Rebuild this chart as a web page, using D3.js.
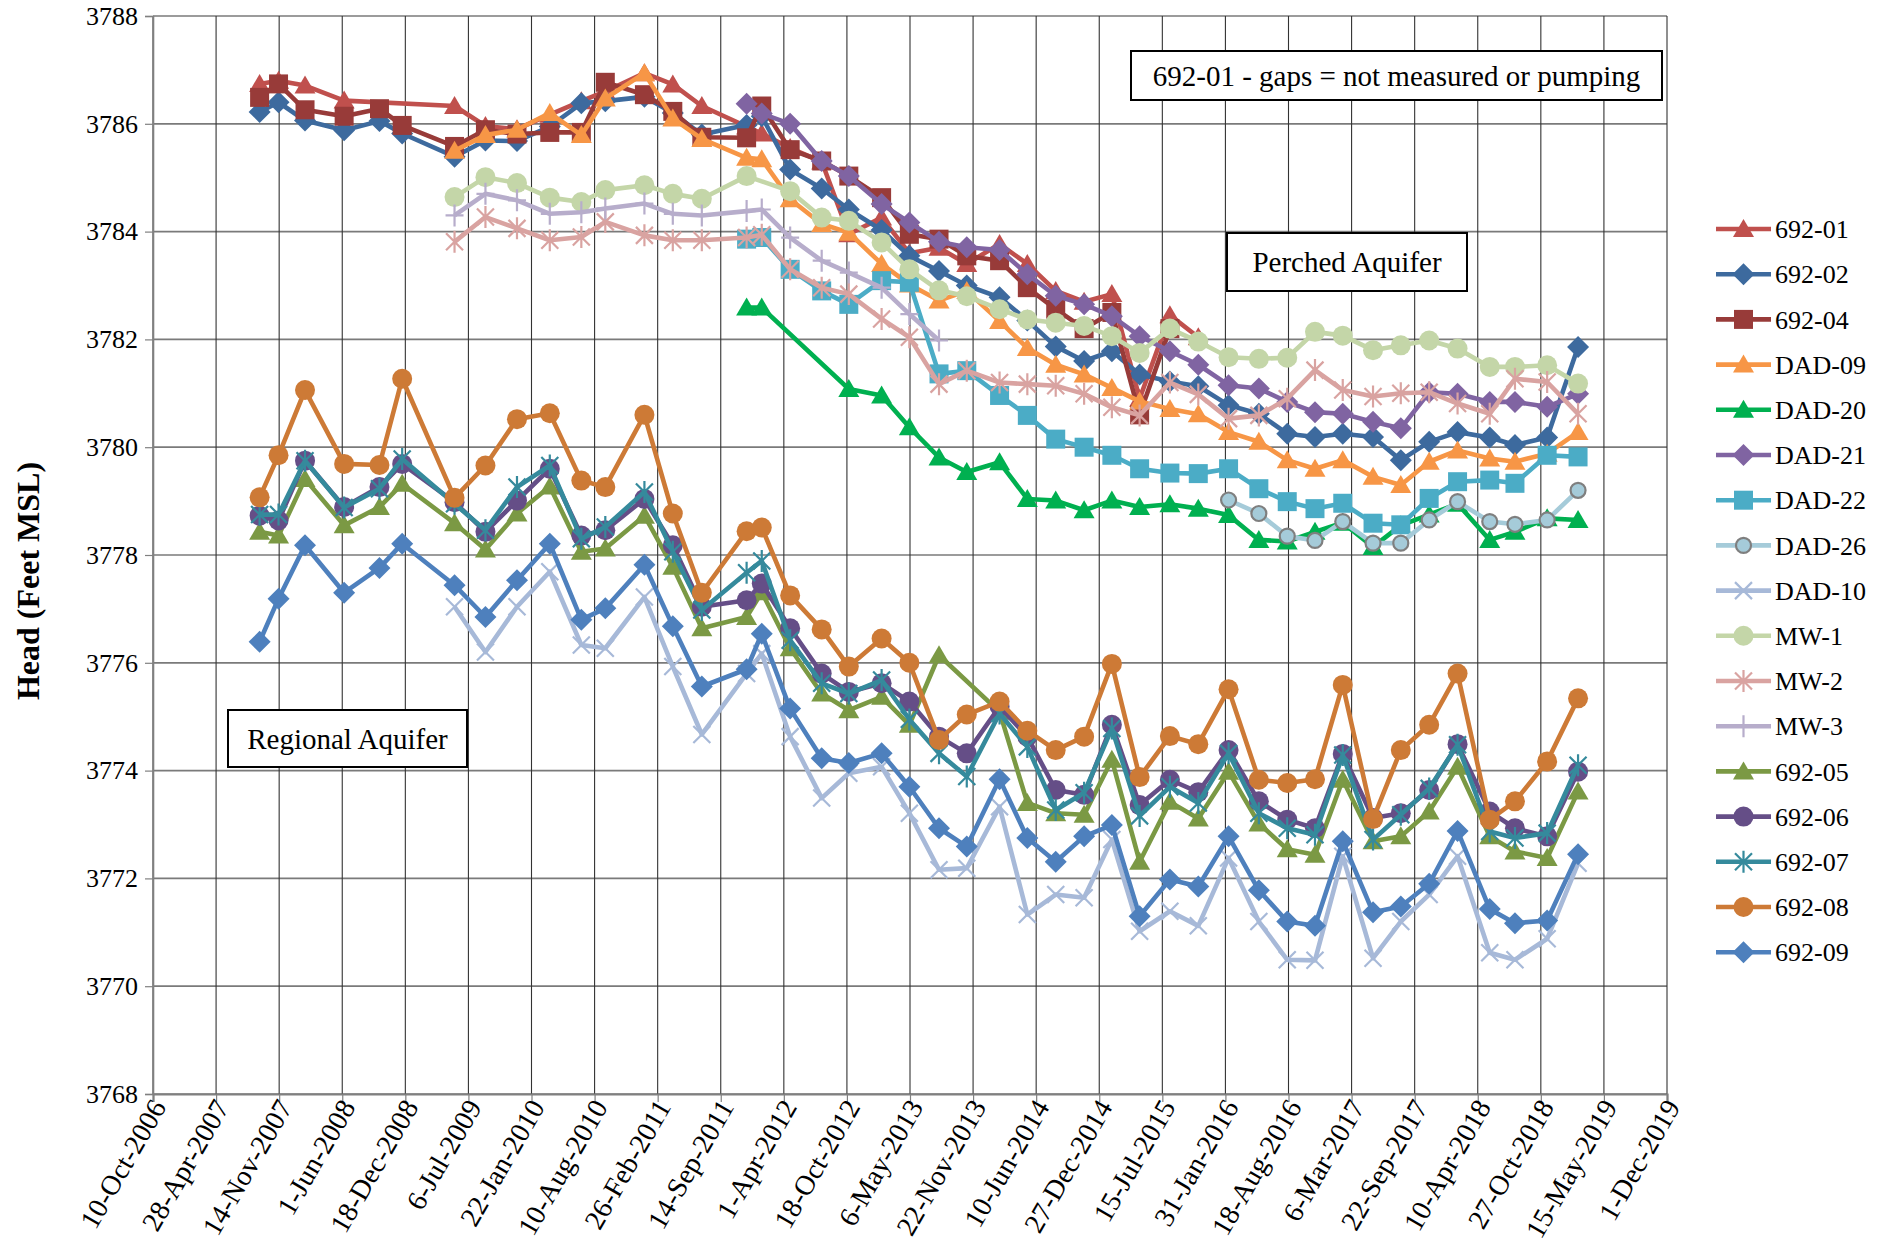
<!DOCTYPE html>
<html>
<head>
<meta charset="utf-8">
<script src="https://cdn.jsdelivr.net/npm/d3@7"></script>
<style>
  body { margin: 0; background: #fff; }
  svg text { font-family: "Liberation Serif", "Times New Roman", serif; fill: #000; }
</style>
</head>
<body>
<svg id="chart" width="1889" height="1247"></svg>
<script>
var _ = null;

// sampling dates shared by all wells
var sampleDates = [
  "2007-09-13","2007-11-12","2008-02-04","2008-06-07","2008-09-27","2008-12-08",
  "2009-05-23","2009-08-29","2009-12-07","2010-03-21","2010-06-29","2010-09-13",
  "2011-01-15","2011-04-15","2011-07-16","2011-12-05","2012-01-22","2012-04-21",
  "2012-07-30","2012-10-24","2013-02-05","2013-05-04","2013-08-06","2013-11-02",
  "2014-02-14","2014-05-13","2014-08-11","2014-11-09","2015-02-05","2015-05-04",
  "2015-08-08","2015-11-06","2016-02-10","2016-05-16","2016-08-14","2016-11-10",
  "2017-02-06","2017-05-13","2017-08-09","2017-11-07","2018-02-05","2018-05-18",
  "2018-08-06","2018-11-16","2019-02-22"
];

var xTickLabels = ["10-Oct-2006","28-Apr-2007","14-Nov-2007","1-Jun-2008","18-Dec-2008","6-Jul-2009",
  "22-Jan-2010","10-Aug-2010","26-Feb-2011","14-Sep-2011","1-Apr-2012","18-Oct-2012","6-May-2013",
  "22-Nov-2013","10-Jun-2014","27-Dec-2014","15-Jul-2015","31-Jan-2016","18-Aug-2016","6-Mar-2017",
  "22-Sep-2017","10-Apr-2018","27-Oct-2018","15-May-2019","1-Dec-2019"];
var yTickLabels = [3768, 3770, 3772, 3774, 3776, 3778, 3780, 3782, 3784, 3786, 3788];

// perched aquifer wells (feet MSL)
var w692_01 = [3786.74,3786.80,3786.71,3786.43,_,_,3786.33,3785.96,3785.90,3786.17,3786.42,3786.60,3786.94,3786.73,3786.33,
  3785.95,3785.82,3785.55,3785.30,3783.95,3784.26,3783.60,3783.70,3783.40,3783.77,3783.40,3782.90,3782.70,3782.84,3780.90,3782.45,3782.04];
var w692_02 = [3786.22,3786.40,3786.06,3785.88,3786.05,3785.82,3785.39,3785.69,3785.68,3785.95,3786.38,3786.42,3786.50,3786.20,3785.80,
  3785.98,3786.14,3785.15,3784.80,3784.41,3784.03,3783.55,3783.27,3783.00,3782.78,3782.35,3781.87,3781.60,3781.78,3781.35,
  3781.22,3781.13,3780.78,3780.62,3780.25,3780.19,3780.25,3780.19,3779.76,3780.10,3780.28,3780.18,3780.04,3780.18,3781.86];
var w692_04 = [3786.49,3786.74,3786.26,3786.14,3786.28,3785.97,3785.58,3785.89,3785.81,3785.84,3785.84,3786.77,3786.54,3786.23,3785.75,
  3785.74,3786.33,3785.52,3785.31,3785.03,3784.63,3783.95,3783.86,3783.55,3783.46,3782.96,3782.56,3782.20,3782.50,3780.60,3782.20];
var dad09 = [_,_,_,_,_,_,3785.50,3785.79,3785.89,3786.20,3785.79,3786.47,3786.94,3786.10,3785.72,
  3785.37,3785.34,3784.60,3784.14,3783.98,3783.40,3783.02,3782.72,3782.90,3782.34,3781.84,3781.53,3781.35,3781.10,3780.85,
  3780.71,3780.61,3780.28,3780.10,3779.76,3779.60,3779.76,3779.45,3779.30,3779.73,3779.94,3779.79,3779.73,3779.88,3780.28];
var dad20 = [_,_,_,_,_,_,_,_,_,_,_,_,_,_,_,
  3782.59,3782.59,_,_,3781.08,3780.96,3780.37,3779.81,3779.54,3779.72,3779.04,3779.01,3778.83,3779.01,3778.89,
  3778.94,3778.86,3778.74,3778.28,3778.25,3778.43,3778.60,3778.15,3778.55,3778.75,3778.95,3778.28,3778.43,3778.68,3778.65];
var dad21 = [_,_,_,_,_,_,_,_,_,_,_,_,_,_,_,
  3786.37,3786.19,3786.00,3785.31,3785.03,3784.51,3784.17,3783.81,3783.71,3783.66,3783.21,3782.81,3782.65,3782.43,3782.06,
  3781.78,3781.53,3781.15,3781.09,3780.84,3780.65,3780.62,3780.47,3780.35,3781.02,3780.99,3780.84,3780.84,3780.75,3780.99];
var dad22 = [_,_,_,_,_,_,_,_,_,_,_,_,_,_,_,
  3783.86,3783.89,3783.30,3782.90,3782.65,3783.09,3783.06,3781.36,3781.42,3780.96,3780.59,3780.15,3780.00,3779.85,3779.60,
  3779.52,3779.51,3779.60,3779.23,3778.99,3778.86,3778.96,3778.59,3778.56,3779.05,3779.36,3779.39,3779.33,3779.85,3779.82];
var dad26 = [_,_,_,_,_,_,_,_,_,_,_,_,_,_,_,_,_,_,_,_,_,_,_,_,_,_,_,_,_,_,_,_,
  3779.02,3778.77,3778.35,3778.27,3778.62,3778.22,3778.22,3778.65,3778.99,3778.62,3778.57,3778.65,3779.20];
var dad10 = [_,_,_,_,_,_,3777.04,3776.20,3777.04,3777.69,3776.33,3776.27,3777.22,3775.93,3774.67,
  3775.80,3776.17,3774.63,3773.49,3773.95,3774.07,3773.21,3772.16,3772.19,3773.33,3771.33,3771.70,3771.64,3772.72,3771.02,
  3771.39,3771.12,3772.38,3771.20,3770.49,3770.48,3772.41,3770.52,3771.20,3771.70,3772.41,3770.62,3770.49,3770.88,3772.28];
var mw1 = [_,_,_,_,_,_,3784.64,3785.01,3784.90,3784.63,3784.55,3784.77,3784.86,3784.70,3784.61,
  3785.03,_,3784.75,3784.26,3784.20,3783.80,3783.30,3782.91,3782.80,3782.56,3782.37,3782.31,3782.25,3782.06,3781.75,
  3782.20,3781.96,3781.67,3781.64,3781.66,3782.14,3782.07,3781.80,3781.89,3781.98,3781.83,3781.49,3781.49,3781.52,3781.18];
var mw2 = [_,_,_,_,_,_,3783.81,3784.27,3784.06,3783.84,3783.90,3784.18,3783.93,3783.84,3783.84,
  3783.89,3783.94,3783.30,3782.96,3782.84,3782.38,3782.04,3781.17,3781.42,3781.20,3781.17,3781.14,3780.99,3780.74,3780.59,
  3781.20,3780.98,3780.53,3780.59,3780.90,3781.43,3781.06,3780.94,3781.00,3781.02,3780.81,3780.62,3781.27,3781.21,3780.62];
var mw3 = [_,_,_,_,_,_,3784.30,3784.70,3784.58,3784.33,3784.36,3784.43,3784.52,3784.33,3784.30,
  3784.38,3784.41,3783.89,3783.46,3783.24,3782.96,3782.47,3781.98];

// regional aquifer wells
var w692_05 = [3778.43,3778.36,3779.41,3778.55,3778.89,3779.32,3778.59,3778.10,3778.77,3779.27,3778.06,3778.12,3778.73,3777.78,3776.64,
  3776.85,3777.31,3776.27,3775.43,3775.12,3775.37,3774.85,3776.14,_,3775.09,3773.40,3773.21,3773.18,3774.20,3772.31,
  3773.42,3773.11,3773.98,3773.02,3772.54,3772.44,3773.83,3772.69,3772.78,3773.24,3774.07,3772.78,3772.50,3772.38,3773.61];
var w692_06 = [3778.73,3778.64,3779.75,3778.89,3779.26,3779.69,3778.98,3778.43,3779.01,3779.60,3778.36,3778.46,3779.04,3778.18,3777.04,
  3777.16,3777.47,3776.64,3775.80,3775.46,3775.62,3775.28,3774.63,3774.32,3775.19,3774.63,3773.64,3773.55,3774.85,3773.36,
  3773.83,3773.60,3774.38,3773.43,3773.09,3772.93,3774.31,3773.12,3773.21,3773.64,3774.49,3773.24,3772.93,3772.78,3773.98];
var w692_07 = [3778.75,3778.75,3779.75,3778.88,3779.23,3779.78,3778.95,3778.46,3779.26,3779.66,3778.30,3778.52,3779.17,3778.06,3776.98,
  3777.67,3777.89,3776.42,3775.62,3775.43,3775.68,3774.95,3774.32,3773.89,3775.06,3774.44,3773.27,3773.59,3774.78,3773.16,
  3773.70,3773.40,3774.32,3773.21,3772.93,3772.81,3774.29,3772.72,3773.18,3773.67,3774.48,3772.87,3772.75,3772.84,3774.10];
var w692_08 = [3779.07,3779.85,3781.06,3779.69,3779.67,3781.27,3779.06,3779.66,3780.52,3780.63,3779.38,3779.26,3780.60,3778.77,3777.30,
  3778.44,3778.51,3777.25,3776.62,3775.93,3776.45,3776.00,3774.57,3775.04,3775.28,3774.74,3774.38,3774.63,3775.98,3773.88,
  3774.64,3774.49,3775.51,3773.83,3773.77,3773.84,3775.59,3773.10,3774.38,3774.85,3775.80,3773.09,3773.43,3774.17,3775.34];
var w692_09 = [3776.39,3777.19,3778.18,3777.30,3777.76,3778.21,3777.44,3776.85,3777.53,3778.21,3776.80,3777.01,3777.82,3776.68,3775.56,
  3775.88,3776.54,3775.15,3774.23,3774.14,3774.32,3773.70,3772.93,3772.59,3773.84,3772.75,3772.31,3772.78,3772.99,3771.30,
  3771.98,3771.85,3772.78,3771.78,3771.20,3771.12,3772.69,3771.37,3771.48,3771.90,3772.88,3771.43,3771.17,3771.22,3772.45];

// series look (legend order = drawing order)
var series = [
  {name: "692-01", values: w692_01, color: "#c0504d", marker: "triangle"},
  {name: "692-02", values: w692_02, color: "#3d6a9e", marker: "diamond"},
  {name: "692-04", values: w692_04, color: "#983b39", marker: "square"},
  {name: "DAD-09", values: dad09,   color: "#f79646", marker: "triangle"},
  {name: "DAD-20", values: dad20,   color: "#00b050", marker: "triangle"},
  {name: "DAD-21", values: dad21,   color: "#8064a2", marker: "diamond"},
  {name: "DAD-22", values: dad22,   color: "#4bacc6", marker: "square"},
  {name: "DAD-26", values: dad26,   color: "#a5cbd9", marker: "ring"},
  {name: "DAD-10", values: dad10,   color: "#a7b9d8", marker: "x"},
  {name: "MW-1",   values: mw1,     color: "#c4d6a8", marker: "circle"},
  {name: "MW-2",   values: mw2,     color: "#d9a3a1", marker: "star"},
  {name: "MW-3",   values: mw3,     color: "#b7adcb", marker: "plus"},
  {name: "692-05", values: w692_05, color: "#7b9944", marker: "triangle"},
  {name: "692-06", values: w692_06, color: "#654e87", marker: "circle"},
  {name: "692-07", values: w692_07, color: "#358a9c", marker: "star"},
  {name: "692-08", values: w692_08, color: "#cd7a36", marker: "circle"},
  {name: "692-09", values: w692_09, color: "#4e80bd", marker: "diamond"}
];

var plotLeft = 153, plotRight = 1667, plotTop = 16, plotBottom = 1094;
var parseDate = d3.utcParse("%Y-%m-%d");
var parseTick = d3.utcParse("%d-%b-%Y");
var tickDates = xTickLabels.map(parseTick);

var x = d3.scaleUtc()
  .domain([tickDates[0], tickDates[tickDates.length - 1]])
  .range([plotLeft, plotRight]);
var y = d3.scaleLinear().domain([3768, 3788]).range([plotBottom, plotTop]);

var svg = d3.select("#chart");
svg.append("rect").attr("width", 1889).attr("height", 1247).attr("fill", "#fff");

// gridlines
svg.append("g").selectAll("line").data(yTickLabels).enter().append("line")
  .attr("x1", plotLeft).attr("x2", plotRight)
  .attr("y1", function(d) { return y(d); }).attr("y2", function(d) { return y(d); })
  .style("stroke", "#7a7a7a").style("stroke-width", 1.7);
svg.append("g").selectAll("line").data(tickDates).enter().append("line")
  .attr("x1", function(d) { return x(d); }).attr("x2", function(d) { return x(d); })
  .attr("y1", plotTop).attr("y2", plotBottom)
  .style("stroke", "#333").style("stroke-width", 1.1);

// axes
var xAxis = svg.append("g")
  .attr("transform", "translate(0," + plotBottom + ")")
  .call(d3.axisBottom(x).tickValues(tickDates).tickSize(8).tickFormat(function(d, i) { return xTickLabels[i]; }));
xAxis.select(".domain").style("stroke", "#808080").style("stroke-width", 2.2);
xAxis.selectAll(".tick line").style("stroke", "#808080").style("stroke-width", 1.2);
xAxis.selectAll(".tick text")
  .style("font-size", "28px")
  .attr("text-anchor", "end")
  .attr("x", 0).attr("y", 0).attr("dy", "0.35em")
  .attr("transform", "translate(5,8) rotate(-60)");

var yAxis = svg.append("g")
  .attr("transform", "translate(" + plotLeft + ",0)")
  .call(d3.axisLeft(y).tickValues(yTickLabels).tickSize(8).tickPadding(7).tickFormat(d3.format("d")));
yAxis.select(".domain").style("stroke", "#808080").style("stroke-width", 1.6);
yAxis.selectAll(".tick line").style("stroke", "#808080").style("stroke-width", 1.2);
yAxis.selectAll(".tick text").style("font-size", "26px");

svg.append("text")
  .attr("transform", "translate(28,581) rotate(-90)")
  .attr("text-anchor", "middle")
  .attr("dy", "0.35em")
  .style("font-size", "32px").style("font-weight", "bold")
  .text("Head (Feet MSL)");

// markers
function markerPath(type) {
  if (type === "triangle") return "M0,-10L10.5,8L-10.5,8Z";
  if (type === "diamond") return "M0,-11L11,0L0,11L-11,0Z";
  if (type === "square") return "M-9.5,-9.5H9.5V9.5H-9.5Z";
  if (type === "x") return "M-8.5,-8.5L8.5,8.5M-8.5,8.5L8.5,-8.5";
  if (type === "star") return "M-8.5,-8.5L8.5,8.5M-8.5,8.5L8.5,-8.5M0,-11V11";
  if (type === "plus") return "M0,-11V11M-9,0H9";
  return null;
}

function drawMarker(g, type, color, cx, cy) {
  if (type === "circle") {
    g.append("circle").attr("cx", cx).attr("cy", cy).attr("r", 10).style("fill", color);
  } else if (type === "ring") {
    g.append("circle").attr("cx", cx).attr("cy", cy).attr("r", 7.5)
      .style("fill", color).style("stroke", "#7f7f7f").style("stroke-width", 2.2);
  } else if (type === "x" || type === "star" || type === "plus") {
    g.append("path").attr("transform", "translate(" + cx + "," + cy + ")")
      .attr("d", markerPath(type)).style("fill", "none")
      .style("stroke", color).style("stroke-width", 2.2);
  } else {
    g.append("path").attr("transform", "translate(" + cx + "," + cy + ")")
      .attr("d", markerPath(type)).style("fill", color);
  }
}

var line = d3.line()
  .x(function(d) { return x(d.date); })
  .y(function(d) { return y(d.value); });

var plot = svg.append("g");
series.forEach(function(s) {
  var pts = [];
  s.values.forEach(function(v, i) {
    if (v !== null) pts.push({date: parseDate(sampleDates[i]), value: v});
  });
  var g = plot.append("g").classed("series", true);
  g.append("path").datum(pts)
    .attr("d", line)
    .style("fill", "none")
    .style("stroke", s.color)
    .style("stroke-width", 4.6)
    .style("stroke-linejoin", "round");
  pts.forEach(function(p) {
    drawMarker(g, s.marker, s.color, x(p.date), y(p.value));
  });
});

// annotation boxes
function noteBox(bx, by, bw, bh, label) {
  var g = svg.append("g");
  g.append("rect").attr("x", bx).attr("y", by).attr("width", bw).attr("height", bh)
    .style("fill", "#fff").style("stroke", "#000").style("stroke-width", 2);
  g.append("text").attr("x", bx + bw / 2).attr("y", by + bh / 2).attr("dy", "0.35em")
    .attr("text-anchor", "middle").style("font-size", "29px").text(label);
}
noteBox(1131, 51, 531, 49, "692-01 - gaps = not measured or pumping");
noteBox(1227, 233, 240, 58, "Perched Aquifer");
noteBox(228, 710, 239, 57, "Regional Aquifer");

// legend
var legend = svg.append("g");
series.forEach(function(s, i) {
  var ly = 229 + i * 45.2;
  var g = legend.append("g");
  g.append("line").attr("x1", 1716).attr("x2", 1771).attr("y1", ly).attr("y2", ly)
    .style("stroke", s.color).style("stroke-width", 4.6);
  drawMarker(g, s.marker, s.color, 1743.5, ly);
  g.append("text").attr("x", 1775).attr("y", ly).attr("dy", "0.35em")
    .style("font-size", "26px").text(s.name);
});
</script>
</body>
</html>
